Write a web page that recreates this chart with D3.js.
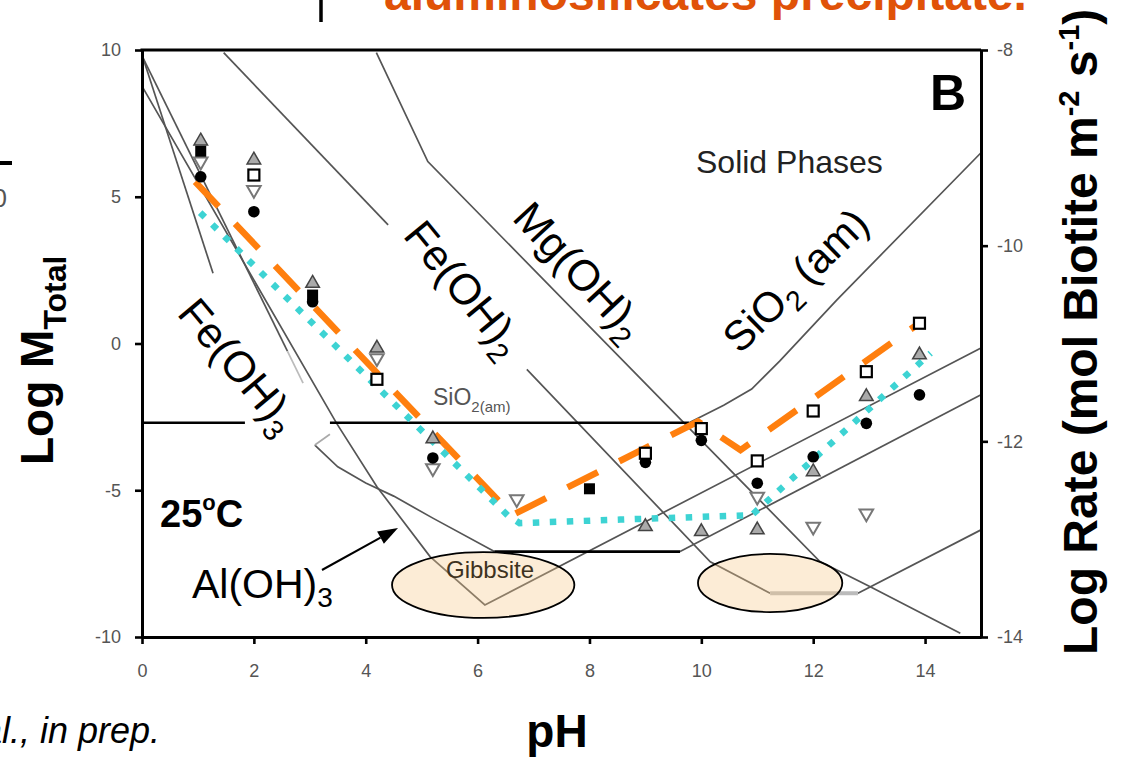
<!DOCTYPE html>
<html><head><meta charset="utf-8">
<script src="https://cdn.jsdelivr.net/npm/d3@7"></script>
<style>
html,body{margin:0;padding:0;background:#fff;}
svg{display:block;font-family:"Liberation Sans",Arial,Helvetica,sans-serif;}
</style></head><body>
<svg id="c" width="1121" height="757"></svg>
<script>
// ---------- data ----------
const xTicks = [0, 2, 4, 6, 8, 10, 12, 14];
const yTicksLeft = [10, 5, 0, -5, -10];
const yTicksRight = [-8, -10, -12, -14];

// solubility lines (pH, log M)
const fe3Short = [[0.02, 9.72], [1.27, 2.39]];
const fe3Line = [[0.02, 9.72], [2.6, -0.26]];
const fe3Faint = [[2.6, -0.26], [2.88, -1.35]];
const gibbsite = [[0.02, 8.70], [3.48, -2.72], [4.2, -4.88], [5.15, -7.26], [6.13, -8.91], [15, -0.15]];
const alHook = [[3.09, -3.46], [3.36, -3.09]];
const alCurve = [[3.09, -3.46], [3.5, -4.2], [4.0, -4.75], [4.5, -5.2], [5.2, -5.95], [6.3, -7.09]];
const kaolFlat = [[6.3, -7.09], [9.62, -7.09]];
const kaolRise = [[9.62, -7.09], [15, -1.75]];
const feOH2Upper = [[1.46, 9.91], [4.4, 4.04]];
const feOH2Lower = [[6.88, -0.88], [10.16, -7.44], [11.23, -8.51]];
const feOH2Flat = [[11.23, -8.51], [12.8, -8.51]];
const feOH2Rise = [[12.8, -8.51], [15, -6.35]];
const mgOH2 = [[4.19, 9.91], [5.11, 6.2], [12.12, -7.43], [13.02, -8.29], [14.63, -9.87]];
const sio2FlatA = [[0, -2.7], [1.84, -2.7]];
const sio2FlatB = [[3.36, -2.7], [9.78, -2.7]];
const sio2Rise = [[9.78, -2.7], [10.4, -2.1], [10.9, -1.55], [11.4, -0.6], [12.42, 1.48], [15, 6.5]];

// measured points
const filledCircle = [[1.05, 5.68], [2.0, 4.49], [3.05, 1.42], [5.2, -3.9], [9.0, -4.05], [10.0, -3.3], [11.0, -4.76], [12.0, -3.86], [12.95, -2.72], [13.9, -1.75]];
const openSquare = [[2.0, 5.74], [4.2, -1.22], [9.0, -3.74], [10.0, -2.9], [11.0, -4.0], [12.0, -2.3], [12.95, -0.96], [13.9, 0.69]];
const filledSquare = [[1.05, 6.55], [3.05, 1.65], [8.0, -4.95]];
const triUp = [[1.05, 6.9], [2.0, 6.25], [3.05, 2.05], [4.2, -0.16], [5.2, -3.25], [9.0, -6.24], [10.0, -6.41], [11.0, -6.35], [12.0, -4.37], [12.95, -1.81], [13.9, -0.39]];
const triDown = [[1.05, 6.2], [2.0, 5.23], [4.2, -0.5], [5.2, -4.25], [6.7, -5.3], [11.0, -5.22], [12.0, -6.24], [12.95, -5.79]];

// model curves
const modelOrange = [[0.95, 5.51], [6.62, -5.85], [9.94, -2.66], [10.7, -3.63], [13.85, 0.63]];
const modelCyan = [[1.04, 4.46], [6.55, -5.88], [6.75, -6.12], [8.55, -6.0], [10.9, -5.85], [14.1, -0.33]];

// precipitate regions (centre pH, centre logM, half-width pH, half-height logM)
const regions = [[6.1, -8.23, 1.63, 1.12], [11.23, -8.16, 1.29, 0.99]];

// ---------- drawing ----------
const svg = d3.select("#c");
const x = d3.scaleLinear().domain([0, 15]).range([142, 981]);
const y = d3.scaleLinear().domain([-10, 10]).range([637, 50]);
const yR = d3.scaleLinear().domain([-14, -8]).range([637, 50]);
const line = d3.line().x(d => x(d[0])).y(d => y(d[1]));

// slide context bits
svg.append("text").attr("x", 384).attr("y", 10).attr("font-size", 48).attr("font-weight", "bold")
  .attr("fill", "#e05208").text("aluminosilicates precipitate.");
svg.append("line").attr("x1", 321).attr("x2", 321).attr("y1", 0).attr("y2", 22).attr("stroke", "#000").attr("stroke-width", 3.5);
svg.append("line").attr("x1", 0).attr("x2", 12).attr("y1", 163).attr("y2", 163).attr("stroke", "#000").attr("stroke-width", 4);
svg.append("text").attr("x", 7).attr("y", 207).attr("text-anchor", "end").attr("font-size", 26).attr("fill", "#555").text("0");
svg.append("text").attr("x", -18).attr("y", 743).attr("font-size", 36).attr("font-style", "italic").attr("fill", "#000").text("al., in prep.");

// gray solubility lines
const gray = svg.append("g").attr("fill", "none").attr("stroke", "#555").attr("stroke-width", 1.7);
[fe3Short, fe3Line, gibbsite, alCurve, kaolRise, feOH2Upper, feOH2Lower, feOH2Rise, mgOH2, sio2Rise]
  .forEach(d => gray.append("path").attr("d", line(d)));
gray.append("path").attr("d", line(fe3Faint)).attr("stroke", "#bbb");
gray.append("path").attr("d", line(alHook)).attr("stroke", "#aaa");
gray.append("path").attr("d", line(feOH2Flat)).attr("stroke", "#bbb").attr("stroke-width", 4);

// black SiO2 / aluminosilicate horizontals
const blk = svg.append("g").attr("fill", "none").attr("stroke", "#000").attr("stroke-width", 2.6);
[sio2FlatA, sio2FlatB, kaolFlat].forEach(d => blk.append("path").attr("d", line(d)));

// precipitate ellipses (translucent over lines)
svg.append("g").selectAll("ellipse").data(regions).join("ellipse")
  .attr("cx", d => x(d[0])).attr("cy", d => y(d[1]))
  .attr("rx", d => x(d[2]) - x(0)).attr("ry", d => y(0) - y(d[3]))
  .attr("fill", "#f5c98a").attr("fill-opacity", 0.35).attr("stroke", "#000").attr("stroke-width", 1.8);

svg.append("text").attr("x", 490).attr("y", 578).attr("text-anchor", "middle").attr("font-size", 24)
  .attr("fill", "#3d3220").text("Gibbsite");

// markers
const sym = (type, size) => d3.symbol().type(type).size(size)();
const mk = svg.append("g");
mk.selectAll(".td").data(triDown).join("path").attr("d", sym(d3.symbolTriangle, 80))
  .attr("transform", d => `translate(${x(d[0])},${y(d[1])}) rotate(180)`)
  .attr("fill", "#fff").attr("stroke", "#777").attr("stroke-width", 2);
mk.selectAll(".tu").data(triUp).join("path").attr("d", sym(d3.symbolTriangle, 80))
  .attr("transform", d => `translate(${x(d[0])},${y(d[1])})`)
  .attr("fill", "#aaa").attr("stroke", "#444").attr("stroke-width", 1.5);
mk.selectAll(".fs").data(filledSquare).join("rect")
  .attr("x", d => x(d[0]) - 5.5).attr("y", d => y(d[1]) - 5.5).attr("width", 11).attr("height", 11)
  .attr("fill", "#000");
mk.selectAll(".fc").data(filledCircle).join("circle")
  .attr("cx", d => x(d[0])).attr("cy", d => y(d[1])).attr("r", 5.8).attr("fill", "#000");

// model curves
svg.append("path").attr("d", line(modelOrange)).attr("fill", "none").attr("stroke", "#ff7f0e")
  .attr("stroke-width", 6.5).attr("stroke-dasharray", "34,24");
svg.append("path").attr("d", line(modelCyan)).attr("fill", "none").attr("stroke", "#3dd3d3")
  .attr("stroke-width", 6.5).attr("stroke-dasharray", "6.5,10.5");

mk.append("g").selectAll("rect").data(openSquare).join("rect")
  .attr("x", d => x(d[0]) - 5.5).attr("y", d => y(d[1]) - 5.5).attr("width", 11).attr("height", 11)
  .attr("fill", "#fff").attr("stroke", "#000").attr("stroke-width", 2.2);
svg.node().appendChild(mk.node());

// axes
const fmt = d => (d < 0 ? "-" : "") + Math.abs(d);
const axL = svg.append("g").attr("transform", `translate(${x(0)},0)`)
  .call(d3.axisLeft(y).tickValues(yTicksLeft).tickSize(7).tickSizeOuter(0).tickPadding(14).tickFormat(fmt));
const axB = svg.append("g").attr("transform", `translate(0,${y(-10)})`)
  .call(d3.axisBottom(x).tickValues(xTicks).tickSize(7).tickSizeOuter(0).tickPadding(20).tickFormat(fmt));
const axR = svg.append("g").attr("transform", `translate(${x(15)},0)`)
  .call(d3.axisRight(yR).tickValues(yTicksRight).tickSize(7).tickSizeOuter(0).tickPadding(9).tickFormat(fmt));
[axL, axB, axR].forEach(a => {
  a.select(".domain").attr("stroke", "#000").attr("stroke-width", 3);
  a.selectAll(".tick line").attr("stroke", "#000").attr("stroke-width", 2.6);
  a.selectAll(".tick text").attr("font-size", 18).attr("fill", "#555")
    .attr("font-family", "'Liberation Sans',Arial,sans-serif");
});
svg.append("line").attr("x1", x(0) - 1.5).attr("x2", x(15)).attr("y1", y(10)).attr("y2", y(10))
  .attr("stroke", "#000").attr("stroke-width", 3);

// axis titles
svg.append("text").attr("x", 557).attr("y", 747).attr("text-anchor", "middle")
  .attr("font-size", 46).attr("font-weight", "bold").text("pH");
const tl = svg.append("text").attr("transform", "translate(53,465) rotate(-90)").attr("font-weight", "bold");
tl.append("tspan").attr("font-size", 46).text("Log M");
tl.append("tspan").attr("font-size", 32).attr("dy", 13).text("Total");
const tr = svg.append("text").attr("transform", "translate(1097,655) rotate(-90)").attr("font-weight", "bold").attr("font-size", 48);
tr.append("tspan").text("Log Rate (mol Biotite m");
tr.append("tspan").attr("font-size", 29).attr("dy", -18).text("-2");
tr.append("tspan").attr("dy", 18).text(" s");
tr.append("tspan").attr("font-size", 29).attr("dy", -18).text("-1");
tr.append("tspan").attr("dy", 18).text(")");

// phase labels
function chem(px, py, ang, size, main, sub, tail) {
  const t = svg.append("text").attr("transform", `translate(${px},${py}) rotate(${ang})`).attr("font-size", size).attr("fill", "#000");
  t.append("tspan").text(main);
  t.append("tspan").attr("font-size", size * 0.68).attr("dy", size * 0.24).text(sub);
  if (tail) t.append("tspan").attr("dy", -size * 0.24).text(tail);
  return t;
}
chem(402, 236, 50.6, 43, "Fe(OH)", "2");
chem(511, 219, 47, 43, "Mg(OH)", "2");
chem(740, 355, -44.5, 42, "SiO", "2", " (am)");
chem(176, 314, 50, 43, "Fe(OH)", "3");

svg.append("text").attr("x", 966).attr("y", 110).attr("text-anchor", "end").attr("font-size", 50).attr("font-weight", "bold").text("B");
svg.append("text").attr("x", 696).attr("y", 173).attr("font-size", 32).attr("fill", "#222").text("Solid Phases");
const s2 = svg.append("text").attr("x", 433).attr("y", 405).attr("fill", "#555");
s2.append("tspan").attr("font-size", 23).text("SiO");
s2.append("tspan").attr("font-size", 15).attr("dy", 7).text("2(am)");

const t25 = svg.append("text").attr("x", 160).attr("y", 527).attr("font-weight", "bold").attr("font-size", 38);
t25.append("tspan").text("25");
t25.append("tspan").attr("font-size", 22).attr("dy", -17).text("o");
t25.append("tspan").attr("dy", 17).text("C");

const al = svg.append("text").attr("x", 192).attr("y", 598).attr("font-size", 41);
al.append("tspan").text("Al(OH)");
al.append("tspan").attr("font-size", 28).attr("dy", 9).text("3");

// arrow to Al(OH)3 curve
const a0 = [322, 570], a1 = [398, 528];
const ang = Math.atan2(a1[1] - a0[1], a1[0] - a0[0]);
const back = [a1[0] - 20 * Math.cos(ang), a1[1] - 20 * Math.sin(ang)];
svg.append("line").attr("x1", a0[0]).attr("y1", a0[1]).attr("x2", back[0]).attr("y2", back[1]).attr("stroke", "#000").attr("stroke-width", 2);
svg.append("path").attr("d", `M${a1[0]},${a1[1]} L${back[0] + 7 * Math.sin(ang)},${back[1] - 7 * Math.cos(ang)} L${back[0] - 7 * Math.sin(ang)},${back[1] + 7 * Math.cos(ang)} Z`).attr("fill", "#000");
</script>
</body></html>
